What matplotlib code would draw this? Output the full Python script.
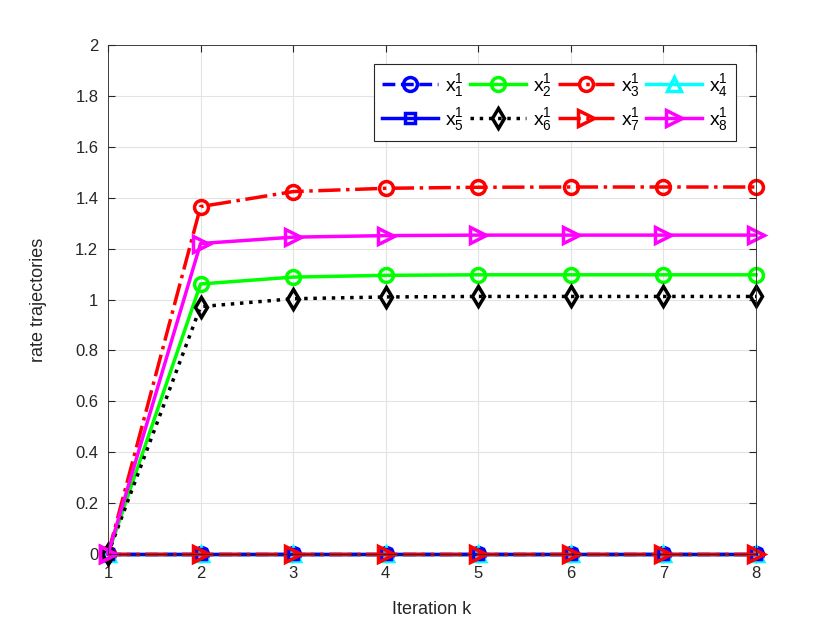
import numpy as np
import matplotlib
matplotlib.use('Agg')
import matplotlib.pyplot as plt

plt.rcParams['font.family'] = ['Liberation Sans', 'DejaVu Sans']
plt.rcParams['mathtext.default'] = 'regular'

k = [1, 2, 3, 4, 5, 6, 7, 8]
x1 = [0, 0, 0, 0, 0, 0, 0, 0]
x2 = [0, 1.061, 1.088, 1.095, 1.097, 1.097, 1.097, 1.097]
x3 = [0, 1.365, 1.424, 1.437, 1.441, 1.442, 1.442, 1.442]
x4 = [0, 0, 0, 0, 0, 0, 0, 0]
x5 = [0, 0, 0, 0, 0, 0, 0, 0]
x6 = [0, 0.972, 1.003, 1.010, 1.012, 1.012, 1.012, 1.012]
x7 = [0, 0, 0, 0, 0, 0, 0, 0]
x8 = [0, 1.220, 1.245, 1.251, 1.253, 1.253, 1.253, 1.253]

series = [x1, x2, x3, x4, x5, x6, x7, x8]
labels = ['$x_{%d}^{1}$' % (i + 1) for i in range(8)]
colors = ['#0000ff', '#00ff00', '#ff0000', '#00ffff', '#0000ff', '#000000', '#ff0000', '#ff00ff']
styles = ['--', '-', '-.', '-', '-', ':', '-.', '-']
markers = ['o', 'o', 'o', '^', 's', 'd', '>', '>']
msizes = [10, 10, 10, 10, 7, 10, 11, 11]

fig = plt.figure(figsize=(8.3, 6.23), dpi=100)
ax = fig.add_axes([108 / 830, 1 - 554 / 623, (756 - 108) / 830, (554 - 45) / 623])

handles = []
for y, lab, c, ls, m, ms in zip(series, labels, colors, styles, markers, msizes):
    h, = ax.plot(k, y, linestyle=ls, color=c, marker=m, markersize=ms, linewidth=2.5,
                 markerfacecolor='none', markeredgewidth=2.5, label=lab, clip_on=False)
    handles.append(h)

ax.set_xlim(1, 8)
ax.set_ylim(0, 2)
ax.set_xticks(k)
ax.set_yticks(np.arange(0, 2.01, 0.2))
ax.set_yticklabels(['0', '0.2', '0.4', '0.6', '0.8', '1', '1.2', '1.4', '1.6', '1.8', '2'])
ax.grid(True, color='#e3e3e3', linewidth=0.8)
ax.set_axisbelow(True)
ax.tick_params(labelsize=12, direction='in', length=5, color='#262626', labelcolor='#262626',
               top=True, right=True)
ax.tick_params(axis='x', pad=9)
ax.tick_params(axis='y', pad=7)
for s in ax.spines.values():
    s.set_color('#262626')
    s.set_linewidth(0.6)

ax.set_xlabel('Iteration k', fontsize=13, color='#262626', labelpad=14)
ax.set_ylabel('rate trajectories', fontsize=13, color='#262626', labelpad=20)

# matplotlib fills legend column by column, so reorder for row-wise layout
order = [0, 4, 1, 5, 2, 6, 3, 7]
leg = ax.legend([handles[i] for i in order], [labels[i] for i in order],
                ncol=4, loc='upper right', bbox_to_anchor=(0.969, 0.963), borderaxespad=0,
                fontsize=14, handlelength=2.9, columnspacing=0.3, handletextpad=0.35,
                fancybox=False, framealpha=1, edgecolor='#262626', borderpad=0.4,
                labelspacing=0.4)
leg.get_frame().set_linewidth(0.8)

fig.savefig('out.png', dpi=100)
